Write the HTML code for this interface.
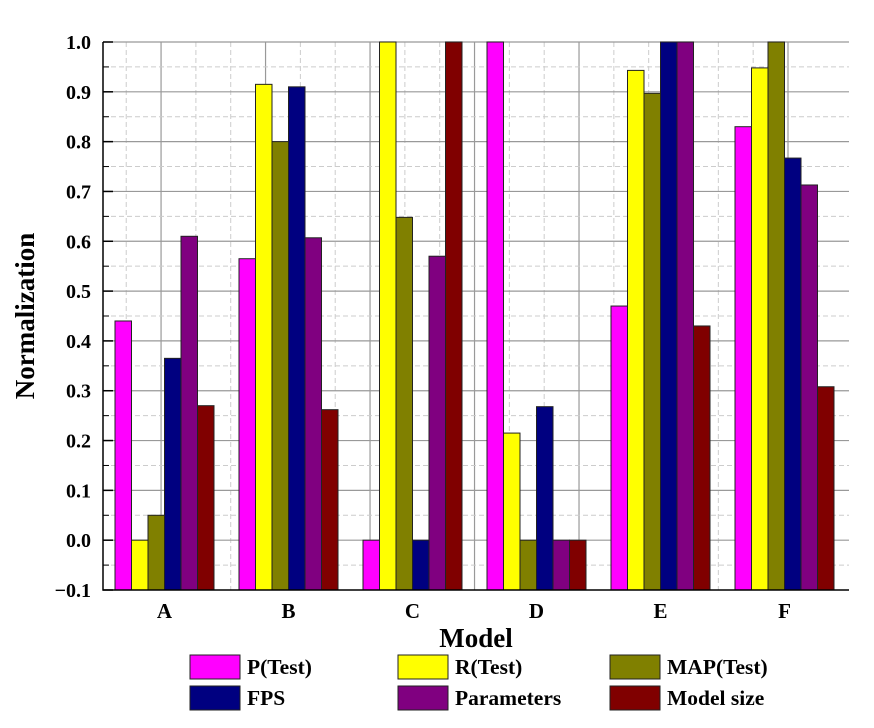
<!DOCTYPE html>
<html><head><meta charset="utf-8"><style>
body{margin:0;background:#fff}
svg text{font-family:"Liberation Serif",serif;font-weight:bold;fill:#000}
</style></head><body>
<svg id="c" width="874" height="723" xmlns="http://www.w3.org/2000/svg"></svg>
<script>
const categories=["A","B","C","D","E","F"];
const seriesNames=["P(Test)","R(Test)","MAP(Test)","FPS","Parameters","Model size"];
const seriesColors=["#ff00ff","#ffff00","#808000","#000080","#800080","#800000"];
const pTest=[0.44,0.565,0.0,1.0,0.47,0.83];
const rTest=[0.0,0.915,1.0,0.215,0.943,0.948];
const mapTest=[0.05,0.80,0.648,0.0,0.897,1.0];
const fps=[0.365,0.91,0.0,0.268,1.0,0.767];
const params=[0.61,0.607,0.57,0.0,1.0,0.713];
const modelSize=[0.27,0.262,1.0,0.0,0.43,0.308];
const yTicks=["−0.1","0.0","0.1","0.2","0.3","0.4","0.5","0.6","0.7","0.8","0.9","1.0"];
const series=[pTest,rTest,mapTest,fps,params,modelSize];

const NS="http://www.w3.org/2000/svg";
const svg=document.getElementById("c");
const L=103,R=849,T=42,B=590,ymin=-0.1,ymax=1.0;
const y=v=>B-(v-ymin)/(ymax-ymin)*(B-T);
const groupX=i=>115+124*i;
const barW=16.5;
function mk(tag,a,parent){const e=document.createElementNS(NS,tag);for(const k in a)e.setAttribute(k,a[k]);(parent||svg).appendChild(e);return e;}

for(let k=0;;k++){const x=788-k*34.83;if(x<=L+2)break;
 const g=mk("line",{x1:x,x2:x,y1:T,y2:B,stroke:k%3==0?"#999":"#ccc","stroke-width":k%3==0?1.2:1,"stroke-dasharray":k%3==0?"":"5,3"});
 
 }
for(let i=1;i<=22;i++){const v=ymin+i*0.05;const yy=y(v);
 const g=mk("line",{x1:L,x2:R,y1:yy,y2:yy,stroke:i%2==0?"#999":"#ccc","stroke-width":i%2==0?1.2:1,"stroke-dasharray":i%2==0?"":"5,3"});
 
 }

categories.forEach((c,i)=>{series.forEach((s,j)=>{
 const top=y(s[i]);
 const r=mk("rect",{x:groupX(i)+j*barW,y:top,width:barW,height:B-top,fill:seriesColors[j],stroke:"#222","stroke-width":1});
 
 
 });
 const t=mk("text",{x:groupX(i)+3*barW,y:618,"text-anchor":"middle","font-size":21});
 t.textContent=c;
 
 
});

const ax=mk("path",{d:`M${L},${T}V${B}H${R}`,fill:"none",stroke:"#000","stroke-width":1.5});


yTicks.forEach((lab,i)=>{const yy=y(ymin+i*0.1);
 const tk=mk("line",{x1:L,x2:L+10,y1:yy,y2:yy,stroke:"#000","stroke-width":1.5});
 
 
 if(i<yTicks.length-1){
 const m=mk("line",{x1:L,x2:L+6,y1:yy-24.9,y2:yy-24.9,stroke:"#000","stroke-width":1});
 
 }
 const t=mk("text",{x:91,y:yy+7,"text-anchor":"end","font-size":20});
 t.textContent=lab;
 
 
});
const xt=mk("text",{x:476,y:647,"text-anchor":"middle","font-size":27});
xt.textContent="Model";


const yt=mk("text",{x:0,y:0,"text-anchor":"middle","font-size":27,transform:"translate(34,316) rotate(-90)"});
yt.textContent="Normalization";



const lx=[190,398,610],ly=[655,686];
seriesNames.forEach((n,j)=>{const cx=lx[j%3],cy=ly[Math.floor(j/3)];
 const g=mk("g",{});
 
 
 mk("rect",{x:cx,y:cy,width:50,height:24,fill:seriesColors[j],stroke:"#222","stroke-width":1},g);
 const t=mk("text",{x:cx+57,y:cy+19,"font-size":21.5},g);
 t.textContent=n;
});
</script>
</body></html>
